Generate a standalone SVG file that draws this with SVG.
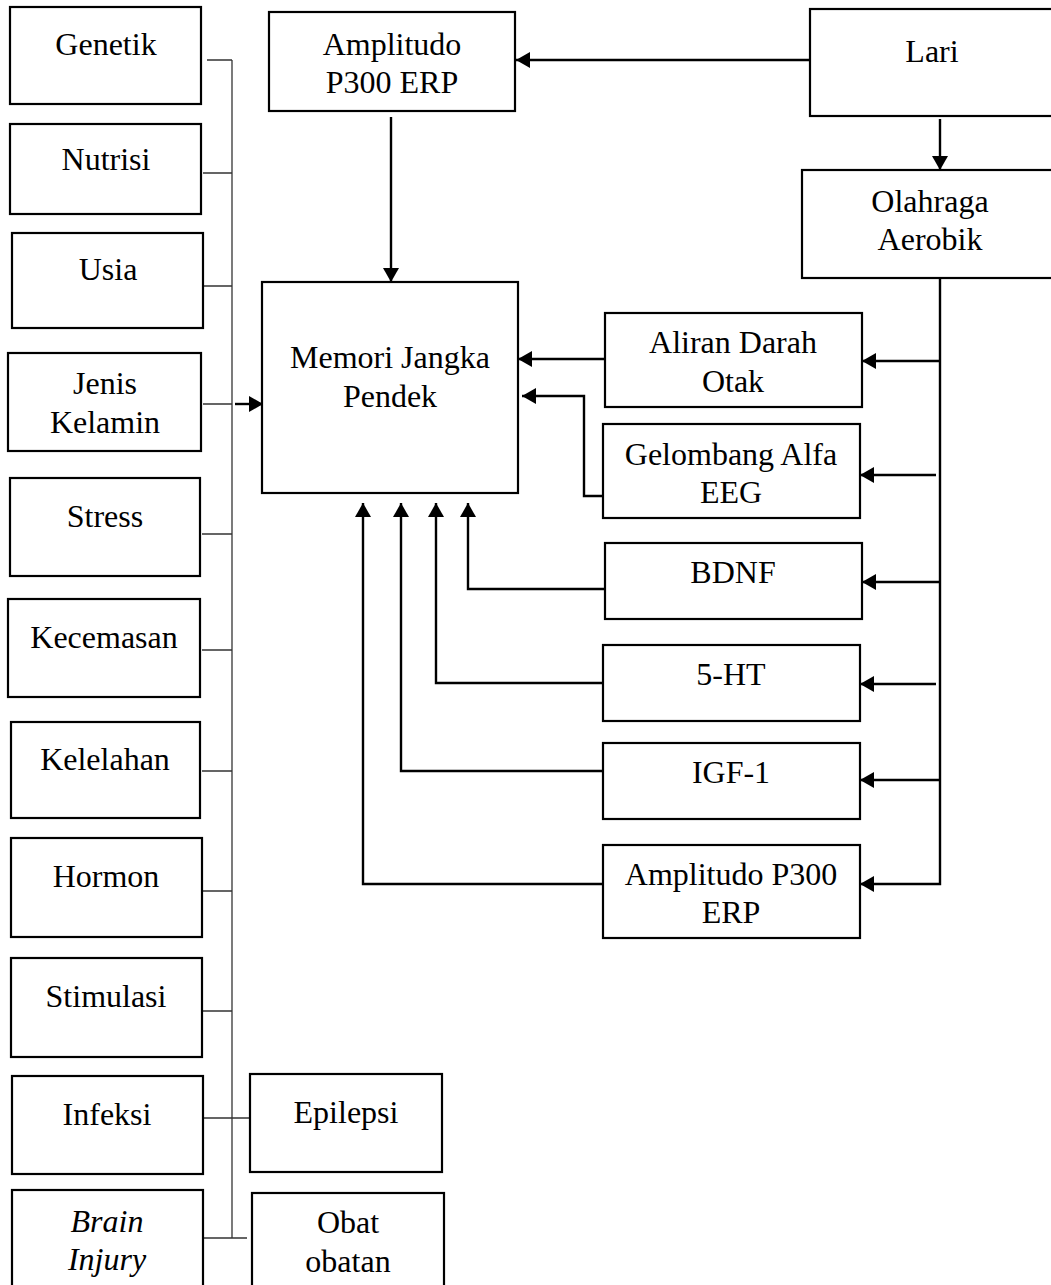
<svg xmlns="http://www.w3.org/2000/svg" width="1051" height="1285" viewBox="0 0 1051 1285">
<style>
.box{fill:#fff;stroke:#000;stroke-width:2.2}
.t{font-family:"Liberation Serif","Times New Roman",serif;font-size:32px;text-anchor:middle;fill:#000}
.it{font-style:italic}
.bus{stroke:#333;stroke-width:1.3;fill:none}
.conn{stroke:#000;stroke-width:2.4;fill:none}
</style>
<defs>
<marker id="ah" viewBox="0 0 14 16" refX="14" refY="8" markerWidth="14" markerHeight="16" markerUnits="userSpaceOnUse" orient="auto">
<path d="M0,0 L14,8 L0,16 Z" fill="#000"/>
</marker>
</defs>
<rect width="1051" height="1285" fill="#fff"/>

<g id="connectors">
<path class="bus" d="M232,60 V1238"/>
<path class="bus" d="M207,60 H232 M203,173 H232 M203,286 H232 M203,404 H232 M202,534 H232 M202,650 H232 M202,771 H232 M203,891 H232 M203,1011 H232 M203,1118 H251 M203,1238 H247"/>
<path class="conn" d="M235,404 H263" marker-end="url(#ah)"/>
<path class="conn" d="M810,60 H516" marker-end="url(#ah)"/>
<path class="conn" d="M940,119 V170" marker-end="url(#ah)"/>
<path class="conn" d="M391,117 V282" marker-end="url(#ah)"/>
<path class="conn" d="M940,278 V884 H860" marker-end="url(#ah)"/>
<path class="conn" d="M940,361 H862" marker-end="url(#ah)"/>
<path class="conn" d="M936,475 H860" marker-end="url(#ah)"/>
<path class="conn" d="M940,582 H862" marker-end="url(#ah)"/>
<path class="conn" d="M936,684 H860" marker-end="url(#ah)"/>
<path class="conn" d="M940,780 H860" marker-end="url(#ah)"/>
<path class="conn" d="M605,359 H518" marker-end="url(#ah)"/>
<path class="conn" d="M603,496 H584 V396 H522" marker-end="url(#ah)"/>
<path class="conn" d="M605,589 H468 V503" marker-end="url(#ah)"/>
<path class="conn" d="M603,683 H436 V503" marker-end="url(#ah)"/>
<path class="conn" d="M603,771 H401 V503" marker-end="url(#ah)"/>
<path class="conn" d="M603,884 H363 V503" marker-end="url(#ah)"/>
</g>

<g id="n-genetik"><rect class="box" x="10" y="7" width="191" height="97"/><text class="t" x="106" y="55">Genetik</text></g>
<g id="n-nutrisi"><rect class="box" x="10" y="124" width="191" height="90"/><text class="t" x="106" y="170">Nutrisi</text></g>
<g id="n-usia"><rect class="box" x="12" y="233" width="191" height="95"/><text class="t" x="108" y="280">Usia</text></g>
<g id="n-jenis"><rect class="box" x="8" y="353" width="193" height="98"/><text class="t" x="105" y="394">Jenis</text><text class="t" x="105" y="433">Kelamin</text></g>
<g id="n-stress"><rect class="box" x="10" y="478" width="190" height="98"/><text class="t" x="105" y="527">Stress</text></g>
<g id="n-kecemasan"><rect class="box" x="8" y="599" width="192" height="98"/><text class="t" x="104" y="648">Kecemasan</text></g>
<g id="n-kelelahan"><rect class="box" x="11" y="722" width="189" height="96"/><text class="t" x="105" y="770">Kelelahan</text></g>
<g id="n-hormon"><rect class="box" x="11" y="838" width="191" height="99"/><text class="t" x="106" y="887">Hormon</text></g>
<g id="n-stimulasi"><rect class="box" x="11" y="958" width="191" height="99"/><text class="t" x="106" y="1007">Stimulasi</text></g>
<g id="n-infeksi"><rect class="box" x="12" y="1076" width="191" height="98"/><text class="t" x="107" y="1125">Infeksi</text></g>
<g id="n-brain"><rect class="box" x="12" y="1190" width="191" height="110"/><text class="t it" x="107" y="1232">Brain</text><text class="t it" x="107" y="1270">Injury</text></g>
<g id="n-epilepsi"><rect class="box" x="250" y="1074" width="192" height="98"/><text class="t" x="346" y="1123">Epilepsi</text></g>
<g id="n-obat"><rect class="box" x="252" y="1193" width="192" height="107"/><text class="t" x="348" y="1233">Obat</text><text class="t" x="348" y="1272">obatan</text></g>

<g id="n-amplitudo-top"><rect class="box" x="269" y="12" width="246" height="99"/><text class="t" x="392" y="55">Amplitudo</text><text class="t" x="392" y="93">P300 ERP</text></g>
<g id="n-memori"><rect class="box" x="262" y="282" width="256" height="211"/><text class="t" x="390" y="368">Memori Jangka</text><text class="t" x="390" y="407">Pendek</text></g>
<g id="n-lari"><rect class="box" x="810" y="9" width="260" height="107"/><text class="t" x="932" y="62">Lari</text></g>
<g id="n-olahraga"><rect class="box" x="802" y="170" width="270" height="108"/><text class="t" x="930" y="212">Olahraga</text><text class="t" x="930" y="250">Aerobik</text></g>
<g id="n-aliran"><rect class="box" x="605" y="313" width="257" height="94"/><text class="t" x="733" y="353">Aliran Darah</text><text class="t" x="733" y="392">Otak</text></g>
<g id="n-gelombang"><rect class="box" x="603" y="424" width="257" height="94"/><text class="t" x="731" y="465">Gelombang Alfa</text><text class="t" x="731" y="503">EEG</text></g>
<g id="n-bdnf"><rect class="box" x="605" y="543" width="257" height="76"/><text class="t" x="733" y="583">BDNF</text></g>
<g id="n-5ht"><rect class="box" x="603" y="645" width="257" height="76"/><text class="t" x="731" y="685">5-HT</text></g>
<g id="n-igf1"><rect class="box" x="603" y="743" width="257" height="76"/><text class="t" x="731" y="783">IGF-1</text></g>
<g id="n-amplitudo-bottom"><rect class="box" x="603" y="845" width="257" height="93"/><text class="t" x="731" y="885">Amplitudo P300</text><text class="t" x="731" y="923">ERP</text></g>
</svg>
